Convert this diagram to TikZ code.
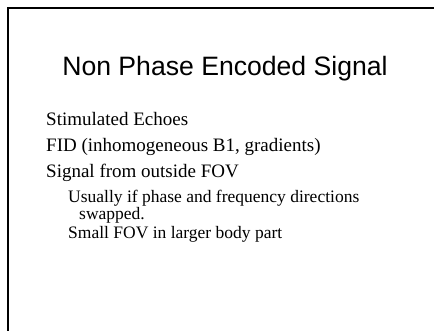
\documentclass[tikz,border=0pt]{standalone}
\usepackage{fontspec}
\setmainfont{Liberation Serif}
\newfontfamily\titlefont{Liberation Sans}
\begin{document}
\begin{tikzpicture}[x=1pt,y=-1pt,
  titletext/.style={font=\titlefont\fontsize{26.6}{30}\selectfont, anchor=base},
  bodytext/.style={font=\fontsize{19}{22}\selectfont, anchor=base west, inner sep=0pt},
  subtext/.style={font=\fontsize{17.5}{20}\selectfont, anchor=base west, inner sep=0pt},
  frameline/.style={line width=2.2pt, line cap=rect}]
  \useasboundingbox (0,0) rectangle (434,330);
  % slide frame: left and top edges only
  \draw[frameline] (8,330) -- (8,8) -- (434,8);
  % title
  \node[titletext] (title) at (225,75) {Non Phase Encoded Signal};
  % first-level bullets
  \node[bodytext] (b1) at (46,125) {Stimulated Echoes};
  \node[bodytext] (b2) at (46,151) {FID (inhomogeneous B1, gradients)};
  \node[bodytext] (b3) at (46,177) {Signal from outside FOV};
  % second-level bullets
  \node[subtext] (s1) at (68,202) {Usually if phase and frequency directions};
  \node[subtext] (s1b) at (79,219) {swapped.};
  \node[subtext] (s2) at (68,238) {Small FOV in larger body part};
\end{tikzpicture}
\end{document}
